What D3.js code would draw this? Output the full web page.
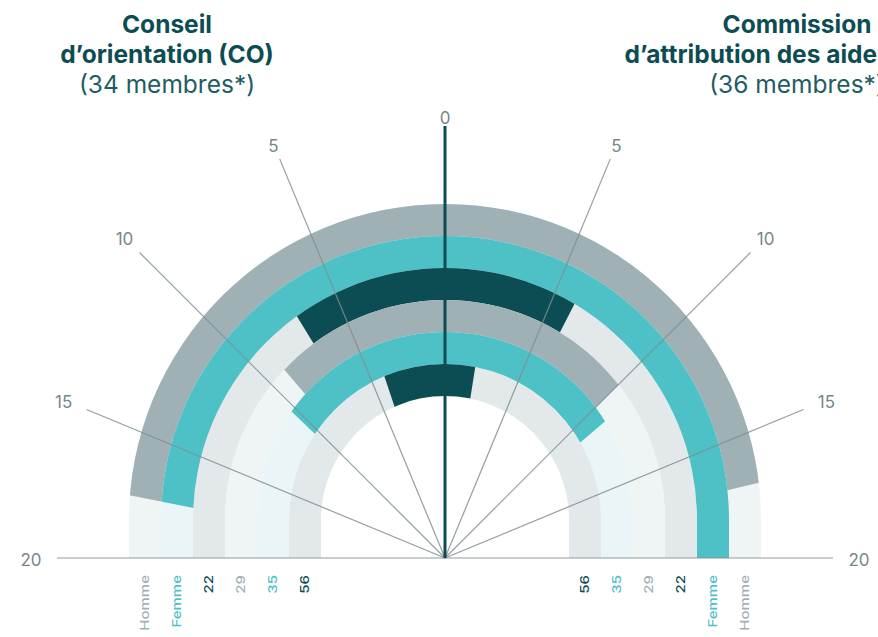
<!DOCTYPE html>
<html>
<head>
<meta charset="utf-8">
<script src="https://cdn.jsdelivr.net/npm/d3@7"></script>
<style>
  body { margin: 0; background: #fff; }
  svg { display: block; font-family: Inter, "Noto Sans", sans-serif; }
</style>
</head>
<body>
<div id="chart"></div>
<script>
const WIDTH = 878
const HEIGHT = 637

// rings, outer to inner
const rings = ['Homme', 'Femme', '22', '29', '35', '56']
const ringColor = ['gray', 'teal', 'dark', 'gray', 'teal', 'dark']
// left : Conseil d'orientation, right : Commission d'attribution des aides
const coValues = [17.5, 17.5, 7, 9, 10.3, 4.1]
const caaValues = [17, 20, 6, 10, 11, 2]
const ticks = [0, 5, 10, 15, 20]

const coTitle = ['Conseil', 'd’orientation (CO)']
const coSub = '(34 membres*)'
const caaTitle = ['Commission', 'd’attribution des aides (CAA)']
const caaSub = '(36 membres*)'

const COLORS = { gray: '#9fb1b5', teal: '#4ec1c7', dark: '#0b4d53' }
const TRACK = { gray: '#eff4f5', teal: '#e9f5f6', dark: '#e3e9ea' }

const cx = 445, base = 558, cy = 520

const svg = d3.select('#chart').append('svg').attr('width', WIDTH).attr('height', HEIGHT)

const angle = d3.scaleLinear().domain([0, 20]).range([0, Math.PI / 2])
const radius = d3.scaleBand().domain(rings).range([316, 124])
const bw = radius.bandwidth()

// half ring (arc + straight part down to the base line)
function trackPath(r0, r1) {
    let p = d3.path()
    p.moveTo(cx - r1, base)
    p.lineTo(cx - r1, cy)
    p.arc(cx, cy, r1, Math.PI, 2 * Math.PI, false)
    p.lineTo(cx + r1, base)
    p.lineTo(cx + r0, base)
    p.lineTo(cx + r0, cy)
    p.arc(cx, cy, r0, 2 * Math.PI, Math.PI, true)
    p.lineTo(cx - r0, base)
    p.closePath()
    return p.toString()
}

const wedge = d3.arc().innerRadius(0).outerRadius(700)
const defs = svg.append('defs')

// tracks
svg.append('g').selectAll('path')
    .data(rings)
    .enter()
    .append('path')
    .attr('d', d => trackPath(radius(d), radius(d) + bw))
    .attr('fill', (d, i) => TRACK[ringColor[i]])

function drawSide(values, side, key) {
    const g = svg.append('g')
    rings.forEach((r, i) => {
        const a = angle(values[i])
        const id = `clip-${key}-${i}`
        defs.append('clipPath').attr('id', id)
            .append('path')
            .attr('transform', `translate(${cx},${base})`)
            .attr('d', side < 0 ? wedge({ startAngle: -a, endAngle: 0 }) : wedge({ startAngle: 0, endAngle: a }))
        g.append('path')
            .attr('d', trackPath(radius(r), radius(r) + bw))
            .attr('fill', COLORS[ringColor[i]])
            .attr('clip-path', `url(#${id})`)
    })
}
drawSide(coValues, -1, 'co')
drawSide(caaValues, 1, 'caa')

// radial lines
const tickLen = v => v <= 10 ? 432 : 388
const lines = svg.append('g')
ticks.filter(t => t > 0).forEach(t => {
    [-1, 1].forEach(s => {
        const a = angle(t)
        lines.append('line')
            .attr('x1', cx).attr('y1', base)
            .attr('x2', cx + s * tickLen(t) * Math.sin(a))
            .attr('y2', base - tickLen(t) * Math.cos(a))
            .attr('stroke', '#7f8e91')
            .attr('stroke-opacity', 0.85)
            .attr('stroke-width', 1.2)
    })
})
lines.append('line')
    .attr('x1', cx).attr('y1', base)
    .attr('x2', cx).attr('y2', base - tickLen(0))
    .attr('stroke', '#0b4d53')
    .attr('stroke-width', 3)

// tick labels
ticks.forEach(t => {
    const sides = t === 0 ? [1] : [-1, 1]
    sides.forEach(s => {
        const a = angle(t)
        const r = tickLen(t) + 10 + 16 * Math.sin(a)
        svg.append('text')
            .attr('x', cx + s * r * Math.sin(a))
            .attr('y', base - r * Math.cos(a) + 2)
            .attr('text-anchor', 'middle')
            .attr('dominant-baseline', 'central')
            .attr('fill', '#76878a')
            .attr('font-size', 17)
            .text(t)
    })
})

// ring labels under the base line
;[-1, 1].forEach(s => {
    rings.forEach((r, i) => {
        svg.append('text')
            .attr('transform', `translate(${cx + s * (radius(r) + bw / 2)},575) rotate(-90) scale(1.25,1)`)
            .attr('text-anchor', 'end')
            .attr('dominant-baseline', 'central')
            .attr('font-size', 12)
            .attr('font-weight', 500)
            .attr('fill', COLORS[ringColor[i]])
            .text(r)
    })
})

// titles
function title(x, lines2, sub) {
    const t = svg.append('text').attr('text-anchor', 'middle').attr('fill', '#0c4d53')
    lines2.forEach((l, i) => {
        t.append('tspan').attr('x', x).attr('y', 33 + i * 30)
            .attr('font-size', 24.5).attr('font-weight', 700).text(l)
    })
    t.append('tspan').attr('x', x).attr('y', 93)
        .attr('font-size', 24.5).attr('font-weight', 400).attr('fill', '#1e5d64').text(sub)
}
title(167, coTitle, coSub)
title(797, caaTitle, caaSub)
</script>
</body>
</html>
